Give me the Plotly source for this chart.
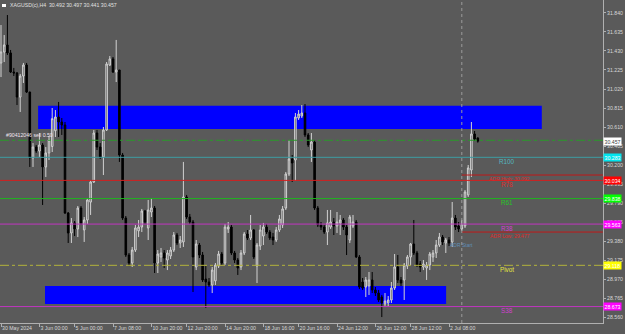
import plotly.graph_objects as go

# ---------------- data ----------------
opens = [31.300, 31.419, 31.495, 31.409, 31.203, 31.193, 30.933, 31.160, 31.279, 30.987,
         30.276, 30.394, 30.351, 30.416, 30.179, 30.330, 30.400, 30.570, 30.718, 30.664,
         30.632, 29.682, 29.467, 29.575, 29.510, 29.736, 29.500, 29.607, 29.800, 30.017,
         30.545, 30.394, 30.287, 30.578, 31.279, 31.344, 31.203, 31.225, 30.308, 29.628,
         29.229, 29.143, 29.283, 29.490, 29.531, 29.704, 29.521, 29.693, 29.736, 29.143,
         29.208, 29.251, 29.175, 29.219, 29.283, 29.445, 29.359, 29.370, 29.855, 29.639,
         29.585, 29.100, 29.337, 29.229, 28.970, 28.938, 28.906, 28.950, 29.110, 29.240,
         29.143, 29.510, 29.531, 29.251, 29.175, 29.100, 29.251, 29.456, 29.413, 29.499,
         29.110, 29.326, 29.434, 29.531, 29.477, 29.423, 29.391, 29.499, 29.553, 29.736,
         30.103, 30.265, 30.254, 30.707, 30.729, 30.761, 30.524, 30.362, 30.448, 29.736,
         29.553, 29.531, 29.477, 29.531, 29.585, 29.542, 29.575, 29.607, 29.531, 29.391,
         29.542, 29.585, 29.208, 28.938, 28.884, 28.895, 28.960, 28.852, 28.819, 28.776,
         28.701, 28.712, 28.744, 28.873, 29.100, 28.960, 28.960, 29.110, 29.208, 29.348,
         29.251, 29.132, 29.100, 29.089, 29.121, 29.208, 29.251, 29.337, 29.423, 29.359,
         29.391, 29.370, 29.628, 29.542, 29.510, 29.542, 29.877, 30.146, 30.535, 30.492]
highs = [31.710, 31.602, 31.818, 31.441, 31.247, 31.203, 31.182, 31.301, 31.301, 30.990,
         30.437, 30.416, 30.545, 30.437, 30.394, 30.513, 30.815, 30.793, 30.880, 30.707,
         30.664, 29.693, 29.628, 29.596, 29.758, 29.758, 29.639, 29.844, 30.038, 30.578,
         30.578, 30.437, 30.610, 31.311, 31.376, 31.365, 31.549, 31.225, 30.330, 29.650,
         29.251, 29.316, 29.553, 29.607, 29.726, 29.715, 29.823, 29.844, 29.758, 29.283,
         29.305, 29.283, 29.283, 29.316, 29.477, 29.467, 29.434, 30.233, 29.877, 29.672,
         29.607, 29.391, 29.359, 29.262, 29.110, 28.981, 29.100, 29.143, 29.273, 29.262,
         29.564, 29.585, 29.553, 29.273, 29.197, 29.283, 29.477, 29.499, 29.661, 29.510,
         29.359, 29.553, 29.575, 29.564, 29.499, 29.467, 29.531, 29.661, 29.758, 30.125,
         30.470, 30.308, 30.761, 30.793, 30.847, 30.858, 30.545, 30.545, 30.470, 29.758,
         29.585, 29.553, 29.715, 29.715, 29.628, 29.693, 29.661, 29.628, 29.553, 29.661,
         29.661, 29.607, 29.229, 28.981, 28.992, 29.046, 29.046, 28.884, 28.852, 28.798,
         28.819, 28.787, 28.938, 29.240, 29.229, 28.992, 29.143, 29.229, 29.359, 29.607,
         29.273, 29.164, 29.175, 29.154, 29.262, 29.283, 29.391, 29.467, 29.445, 29.413,
         29.423, 29.801, 29.661, 29.585, 29.607, 29.930, 30.200, 30.664, 30.567, 30.497]
lows = [31.149, 31.311, 31.387, 31.193, 31.160, 30.847, 30.772, 31.085, 30.977, 30.179,
        30.179, 30.330, 30.287, 29.769, 30.071, 30.254, 30.340, 30.502, 30.502, 30.524,
        29.672, 29.359, 29.359, 29.434, 29.423, 29.553, 29.370, 29.564, 29.661, 30.006,
        30.362, 30.265, 30.092, 30.567, 31.268, 31.193, 31.095, 30.233, 29.607, 29.208,
        29.110, 29.100, 29.262, 29.423, 29.477, 29.564, 29.391, 29.639, 29.035, 29.035,
        29.154, 29.089, 29.067, 29.186, 29.262, 29.337, 29.305, 29.316, 29.618, 29.564,
        28.830, 29.067, 29.197, 28.938, 28.658, 28.884, 28.819, 28.906, 29.089, 29.121,
        29.121, 29.467, 29.229, 29.143, 29.014, 29.067, 29.229, 29.391, 29.391, 29.186,
        28.927, 29.283, 29.337, 29.456, 29.391, 29.337, 29.370, 29.477, 29.521, 29.715,
        30.081, 30.017, 30.028, 30.686, 30.707, 30.502, 30.394, 30.233, 29.715, 29.531,
        29.499, 29.456, 29.337, 29.510, 29.445, 29.467, 29.445, 29.499, 29.229, 29.359,
        29.521, 29.197, 28.862, 28.852, 28.776, 28.798, 28.819, 28.787, 28.722, 28.560,
        28.668, 28.679, 28.712, 28.852, 28.927, 28.895, 28.744, 29.078, 29.121, 29.229,
        29.100, 29.046, 29.067, 28.960, 29.067, 29.154, 29.197, 29.316, 29.337, 29.251,
        29.326, 29.316, 29.499, 29.477, 29.488, 29.521, 29.855, 30.071, 30.459, 30.441]
closes = [31.420, 31.495, 31.409, 31.203, 31.193, 30.933, 31.160, 31.279, 30.987, 30.276,
          30.394, 30.351, 30.416, 30.179, 30.330, 30.470, 30.700, 30.718, 30.664, 30.632,
          29.682, 29.467, 29.575, 29.510, 29.736, 29.575, 29.607, 29.823, 30.017, 30.545,
          30.394, 30.287, 30.578, 31.290, 31.344, 31.203, 31.225, 30.308, 29.628, 29.229,
          29.143, 29.283, 29.521, 29.531, 29.704, 29.585, 29.715, 29.736, 29.143, 29.240,
          29.251, 29.197, 29.251, 29.283, 29.445, 29.359, 29.391, 29.855, 29.639, 29.585,
          29.208, 29.348, 29.229, 28.960, 28.938, 28.906, 29.067, 29.121, 29.240, 29.143,
          29.531, 29.531, 29.251, 29.175, 29.089, 29.251, 29.456, 29.413, 29.499, 29.208,
          29.337, 29.499, 29.531, 29.477, 29.413, 29.391, 29.499, 29.618, 29.726, 30.103,
          30.265, 30.222, 30.718, 30.750, 30.761, 30.524, 30.416, 30.448, 29.736, 29.553,
          29.531, 29.477, 29.575, 29.585, 29.542, 29.585, 29.607, 29.531, 29.445, 29.639,
          29.585, 29.208, 28.884, 28.873, 28.960, 28.960, 28.852, 28.819, 28.744, 28.712,
          28.733, 28.744, 28.873, 29.100, 28.960, 28.927, 29.121, 29.208, 29.348, 29.251,
          29.121, 29.100, 29.132, 29.121, 29.240, 29.251, 29.337, 29.423, 29.370, 29.391,
          29.359, 29.628, 29.531, 29.510, 29.553, 29.909, 30.168, 30.535, 30.481, 30.457]
bars = list(range(len(opens)))

# time-axis labels (bar index where each label sits)
tick_bars = [0, 12, 23, 35, 47, 58, 70, 82, 93, 105, 117, 128, 140]
tick_text = ["30 May 2024", "3 Jun 00:00", "5 Jun 00:00", "7 Jun 08:00", "10 Jun 20:00",
             "12 Jun 20:00", "14 Jun 20:00", "18 Jun 16:00", "20 Jun 16:00", "24 Jun 12:00",
             "26 Jun 12:00", "28 Jun 12:00", "2 Jul 08:00"]
price_ticks = [28.560, 28.765, 28.970, 29.175, 29.380, 29.585, 29.790, 29.995, 30.200,
               30.405, 30.610, 30.815, 31.020, 31.225, 31.430, 31.635, 31.840]

# levels
level_names = ["R100", "R78", "R61", "R38", "Pivot", "S38"]
level_values = [30.283, 30.034, 29.838, 29.563, 29.118, 28.673]
level_colors = ["#3e9ea3", "#d42020", "#1fb51f", "#c236c2", "#b4b43c", "#c236c2"]
level_text_colors = ["#55b8c0", "#e02828", "#25c825", "#d040d0", "#e6e640", "#d040d0"]
level_box_colors = ["#00e5ee", "#ff0000", "#00ff00", "#ff00ff", "#ffff00", "#ff00ff"]
level_dash = ["solid", "solid", "solid", "solid", "dashdot", "solid"]

adr_high = 30.092
adr_low = 29.477
adr_start_bar = 144
bid_price = 30.457
order_price = 30.467
order_text = "#90412046 sell 0.50"
title_text = "XAGUSD(c),H4  30.492 30.497 30.441 30.457"

zone_upper = dict(x0=11.6, x1=169.0, y0=30.589, y1=30.840)
zone_lower = dict(x0=13.75, x1=139.1, y0=28.701, y1=28.895)

# ---------------- figure ----------------
BG = "#5a5a5a"
FONT = "Liberation Sans"
W, H = 625, 334
ML, MR, MT, MB = 0, 22, 0, 11
PW, PH = W - ML - MR, H - MT - MB

fig = go.Figure()
fig.add_trace(go.Candlestick(
    x=bars, open=opens, high=highs, low=lows, close=closes,
    increasing=dict(line=dict(color="#d2d2d2", width=1), fillcolor=BG),
    decreasing=dict(line=dict(color="#000000", width=1), fillcolor="#000000"),
    whiskerwidth=0, hoverinfo="skip", showlegend=False))

shapes = []
for z in (zone_upper, zone_lower):
    shapes.append(dict(type="rect", xref="x", yref="y", layer="below",
                       x0=z["x0"], x1=z["x1"], y0=z["y0"], y1=z["y1"],
                       fillcolor="#0000ff", line=dict(width=0)))
for v, c, d in zip(level_values, level_colors, level_dash):
    shapes.append(dict(type="line", xref="paper", yref="y", x0=0, x1=1, y0=v, y1=v,
                       line=dict(color=c, width=1, dash=d)))
# order line
shapes.append(dict(type="line", xref="paper", yref="y", x0=0, x1=1,
                   y0=order_price, y1=order_price,
                   line=dict(color="#2a9a2a", width=1, dash="dashdot")))
# ADR lines
for v in (adr_high, adr_low):
    shapes.append(dict(type="line", xref="x", yref="y", x0=adr_start_bar, x1=188.1,
                       y0=v, y1=v, line=dict(color="#c01818", width=1)))
# day separator / ADR start
shapes.append(dict(type="line", xref="x", yref="paper", x0=adr_start_bar, x1=adr_start_bar,
                   y0=0, y1=1, line=dict(color="#9a9a9a", width=1, dash="dot")))
# small title icon
shapes.append(dict(type="rect", xref="paper", yref="paper",
                   x0=2 / PW, x1=6 / PW, y0=1 - 7 / PH, y1=1 - 4 / PH,
                   fillcolor="#ffffff", line=dict(width=0)))

ann = []
# title
ann.append(dict(xref="paper", yref="paper", x=8 / PW, y=1 - 5.5 / PH, xanchor="left",
                yanchor="middle", text=title_text, showarrow=False,
                font=dict(family=FONT, size=5.2, color="#e0e0e0")))
# order label
ann.append(dict(xref="paper", yref="y", x=4 / PW, y=order_price, xanchor="left",
                yanchor="bottom", yshift=0, text=order_text, showarrow=False,
                font=dict(family=FONT, size=5.2, color="#f0e6f0")))
# level names
for n, v, c in zip(level_names, level_values, level_text_colors):
    ann.append(dict(xref="x", yref="y", x=158, y=v, xanchor="center", yanchor="top",
                    yshift=1.5, text=n, showarrow=False,
                    font=dict(family=FONT, size=6.3, color=c)))
ann.append(dict(xref="x", yref="y", x=158.8, y=adr_high, xanchor="center", yanchor="top",
                yshift=1, text="ADR High: %.3f" % adr_high, showarrow=False,
                font=dict(family=FONT, size=5, color="#e02828")))
ann.append(dict(xref="x", yref="y", x=158.8, y=adr_low, xanchor="center", yanchor="top",
                yshift=1, text="ADR Low: %.3f" % adr_low, showarrow=False,
                font=dict(family=FONT, size=5, color="#e02828")))
ann.append(dict(xref="x", yref="paper", x=adr_start_bar, y=1 - 245 / PH, xanchor="center",
                yanchor="middle", text="ADR Start", showarrow=False,
                font=dict(family=FONT, size=5, color="#5f8fb8")))
# price boxes on the scale
for v, c in zip(level_values, level_box_colors):
    ann.append(dict(xref="paper", yref="y", x=1, y=v, xanchor="left", yanchor="middle",
                    text="%.3f" % v, showarrow=False, bgcolor=c, borderpad=0.6,
                    font=dict(family=FONT, size=5.2, color="#ffffff")))
ann.append(dict(xref="paper", yref="y", x=1, y=bid_price, xanchor="left", yanchor="middle",
                text="%.3f" % bid_price, showarrow=False, bgcolor="#ffffff", borderpad=0.6,
                font=dict(family=FONT, size=5.2, color="#404040")))

# pixel mapping: x_px = 1 + 3.2 * bar
x_lo, x_hi = (0 - 1) / 3.2, (PW - 1) / 3.2
y_top, y_bot = 31.980, 31.980 - PH * 0.010787

fig.update_layout(
    width=W, height=H, margin=dict(l=ML, r=MR, t=MT, b=MB, autoexpand=False),
    paper_bgcolor=BG, plot_bgcolor=BG,
    shapes=shapes, annotations=ann, showlegend=False,
    xaxis=dict(range=[x_lo, x_hi], rangeslider=dict(visible=False), showgrid=False,
               zeroline=False, tickmode="array", tickvals=tick_bars, ticktext=tick_text,
               ticks="outside", ticklen=3, tickcolor="#b0b0b0", tickwidth=1,
               ticklabelposition="outside right", tickangle=0, automargin=False,
               showline=True, linecolor="#b0b0b0", linewidth=1,
               tickfont=dict(family=FONT, size=5.2, color="#d8d8d8")),
    yaxis=dict(range=[y_bot, y_top], side="right", showgrid=False, zeroline=False,
               tickmode="array", tickvals=price_ticks, automargin=False,
               ticktext=["%.3f" % t for t in price_ticks],
               ticks="outside", ticklen=2, tickcolor="#b0b0b0",
               showline=True, linecolor="#b0b0b0", linewidth=1,
               tickfont=dict(family=FONT, size=5.2, color="#d8d8d8")),
)

fig.write_html("out.html")
